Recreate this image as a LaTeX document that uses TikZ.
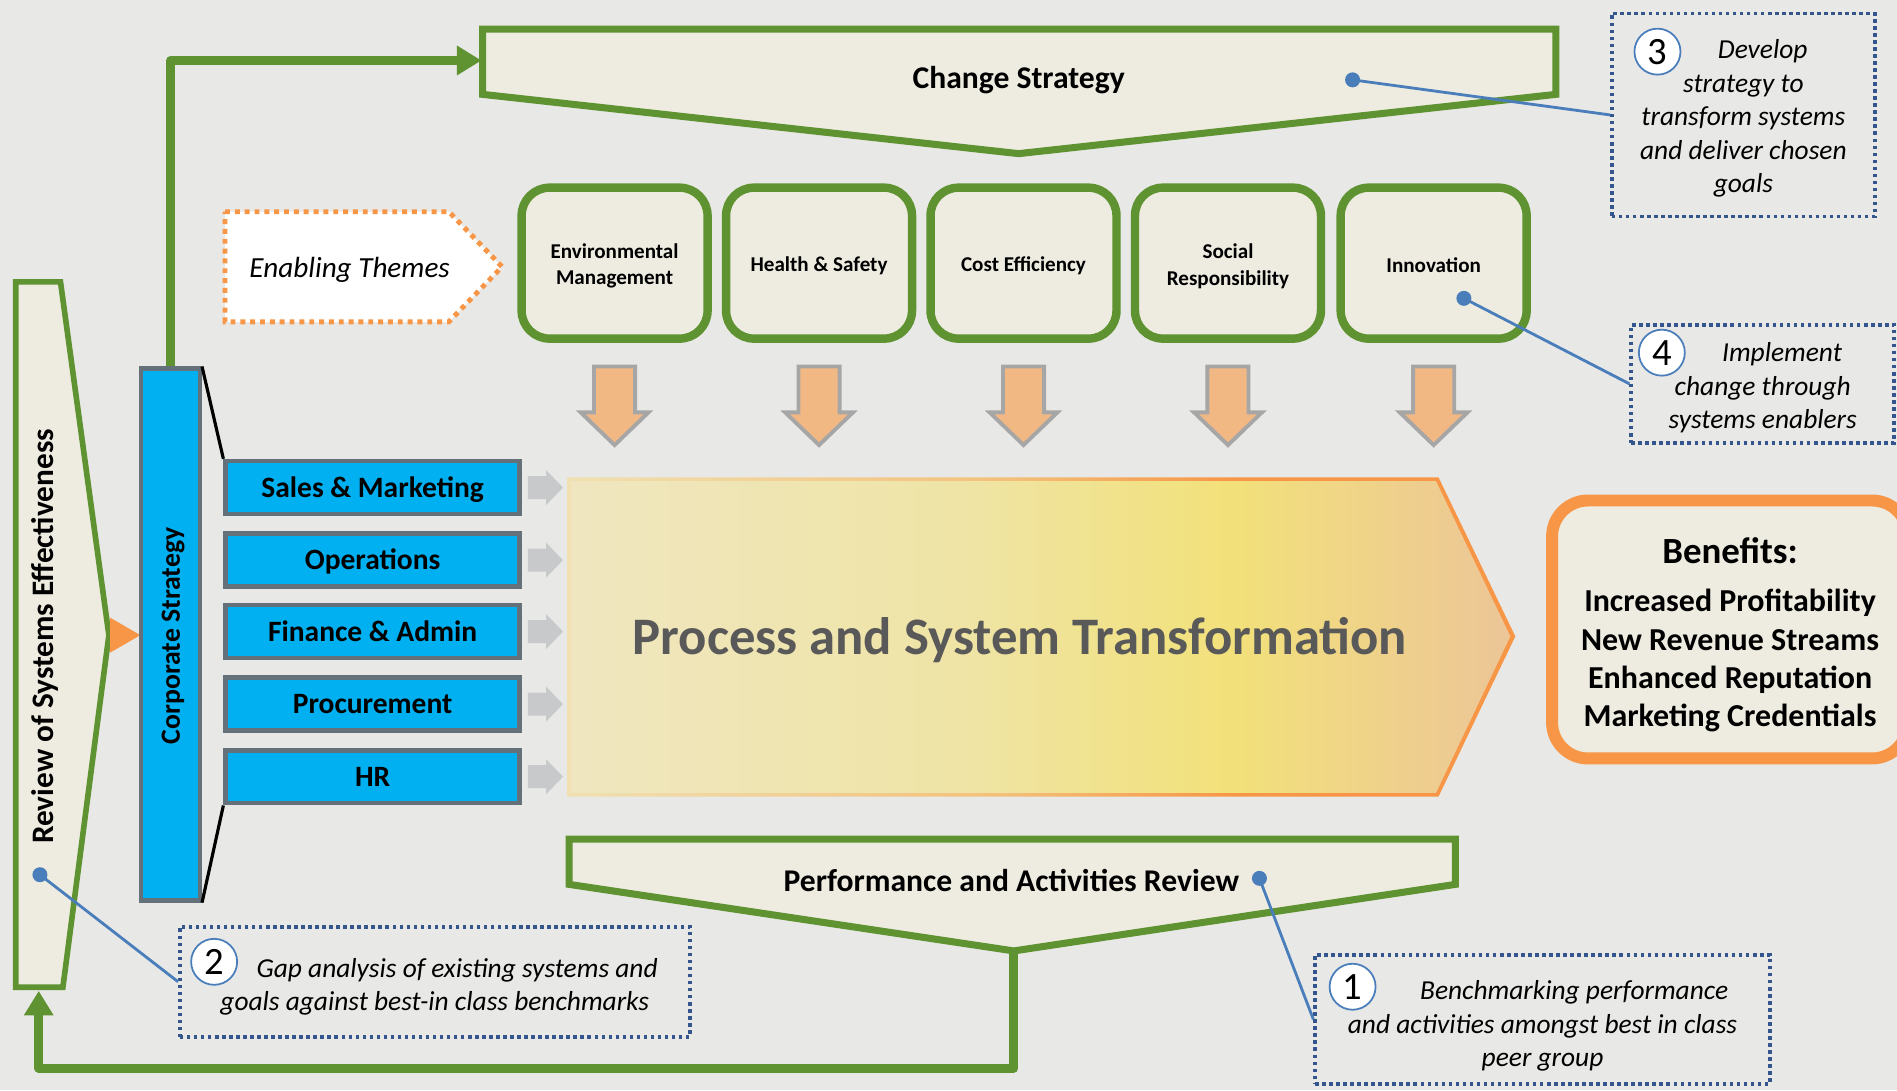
\documentclass[tikz,border=0pt]{standalone}
\usepackage{fontspec}
\setmainfont{Carlito}
\usetikzlibrary{arrows.meta}

\definecolor{bgpaper}{RGB}{232,232,230}
\definecolor{leafgreen}{RGB}{95,146,48}
\definecolor{cream}{RGB}{238,236,225}
\definecolor{skyblue}{RGB}{0,176,240}
\definecolor{slategray}{RGB}{100,112,122}
\definecolor{orng}{RGB}{247,150,70}
\definecolor{peach}{RGB}{242,184,132}
\definecolor{dotblue}{RGB}{74,126,187}
\definecolor{calblue}{RGB}{52,86,140}
\definecolor{ashgray}{RGB}{200,201,203}
\definecolor{textgray}{RGB}{89,89,89}
\definecolor{procA}{RGB}{239,230,192}
\definecolor{procB}{RGB}{239,228,165}
\definecolor{procC}{RGB}{242,225,122}
\definecolor{procD}{RGB}{236,197,152}
\definecolor{edgeA}{RGB}{240,224,178}
\definecolor{edgeB}{RGB}{243,192,122}

\pgfdeclarehorizontalshading{procshade}{100bp}{color(0bp)=(procA); color(25bp)=(procA); color(46bp)=(procB); color(60bp)=(procC); color(75bp)=(procD); color(100bp)=(procD)}
\pgfdeclarehorizontalshading{procedge}{100bp}{color(0bp)=(edgeA); color(25bp)=(edgeA); color(48bp)=(edgeB); color(60bp)=(orng); color(100bp)=(orng)}

\tikzset{
  flow/.style={draw=leafgreen, line width=2.5pt, line join=round, -{Triangle[length=7pt,width=8pt]}},
  banner/.style={draw=leafgreen, line width=2pt, fill=cream},
  theme/.style={draw=leafgreen, line width=2.4pt, fill=cream, rounded corners=2.8mm,
    minimum width=18.6mm, minimum height=15.1mm, inner sep=0pt},
  themetext/.style={align=center, inner sep=0pt, font=\fontsize{6}{7.5}\selectfont\bfseries},
  func/.style={draw=slategray, line width=1.3pt, fill=skyblue, minimum width=29.4mm,
    minimum height=5.3mm, inner sep=0pt, text height=5.6pt, text depth=0pt,
    font=\fontsize{8.4}{10}\selectfont\bfseries},
  callout/.style={draw=calblue, line width=1pt, dash pattern=on 1pt off 1pt, inner sep=0pt},
  calltext/.style={align=center, inner sep=0pt, font=\fontsize{7.8}{9.5}\selectfont\itshape},
  num/.style={circle, draw=dotblue, line width=0.5pt, fill=white, minimum size=4.6mm,
    inner sep=0pt, font=\fontsize{11}{12}\selectfont},
  dot/.style={circle, fill=dotblue, minimum size=1.5mm, inner sep=0pt},
  lead/.style={draw=dotblue, line width=0.8pt},
  benefit/.style={draw=orng, line width=3.4pt, fill=cream, rounded corners=3.6mm,
    minimum width=35.6mm, minimum height=25.8mm, inner sep=0pt},
  darrow/.pic={
    \filldraw[fill=peach, draw=gray!70, line width=1.1pt]
      (-17,0) -- (17,0) -- (17,38) -- (28,38) -- (0,65) -- (-28,38) -- (-17,38) -- cycle;
  },
  garrow/.pic={
    \fill[ashgray] (0,-9.5) -- (15,-9.5) -- (15,-14.5) -- (29,0) -- (15,14.5) -- (15,9.5) -- (0,9.5) -- cycle;
  }
}

\begin{document}
\begin{tikzpicture}[x=0.121mm, y=-0.121mm]
  \useasboundingbox (0,0) rectangle (1568,901);
  \fill[bgpaper] (0,0) rectangle (1568,901);

  % change strategy banner
  \draw[banner] (399,24) -- (1286,24) -- (1286,78) -- (842,127) -- (399,78) -- cycle;
  \node[font=\fontsize{9}{11}\selectfont\bfseries] (chg) at (842,66) {Change Strategy};
  \coordinate (chgL) at (398,50);

  % performance banner
  \draw[banner] (470.5,693.5) -- (1203,693.5) -- (1203,731) -- (838,786) -- (470.5,731) -- cycle;
  \node[font=\fontsize{9}{11}\selectfont\bfseries] (perf) at (836,728) {Performance and Activities Review};
  \coordinate (perfTip) at (838,787);
  \coordinate (loopY) at (0,883);

  % review of systems
  \draw[draw=leafgreen, line width=1.6pt, fill=cream]
    (13,233) -- (50,233) -- (90,525) -- (52,816) -- (13,816) -- cycle;
  \node[rotate=90, font=\fontsize{8.9}{11}\selectfont\bfseries] (rev) at (37,526) {Review of Systems Effectiveness};
  \coordinate (revB) at (32,819);
  \fill[orng] (91,510.5) -- (116,525) -- (91,539.5) -- cycle;

  % corporate strategy and functions
  \node[draw=slategray, line width=1.2pt, fill=skyblue, minimum width=5.87mm, minimum height=53.2mm] (corp) at (141,524.5) {};
  \node[rotate=90, font=\fontsize{7.9}{10}\selectfont\bfseries] (corptxt) at (143,525.5) {Corporate Strategy};

  \node[func] (sales) at (308,403) {Sales \& Marketing};
  \node[func] (ops) at (308,463) {Operations};
  \node[func] (fin) at (308,522) {Finance \& Admin};
  \node[func] (procur) at (308,582) {Procurement};
  \node[func] (hr) at (308,642) {HR};

  \draw[line width=0.9pt] (corp.north east) -- (sales.north west);
  \draw[line width=0.9pt] (corp.south east) -- (hr.south west);

  \foreach \n in {sales,ops,fin,procur,hr}
    \pic at ([xshift=0.6mm]\n.east) {garrow};

  % process and system transformation
  \shade[shading=procshade] (470,396) -- (1188,396) -- (1250,526) -- (1188,657) -- (470,657) -- cycle;
  \shade[shading=procedge, even odd rule]
    (469,394.5) -- (1189,394.5) -- (1252.5,526) -- (1189,658.5) -- (469,658.5) -- cycle
    (472,397.5) -- (1187,397.5) -- (1248.5,526) -- (1187,655.5) -- (472,655.5) -- cycle;
  \node[font=\fontsize{15}{18}\selectfont\bfseries, text=textgray] (pst) at (843,529) {Process and System Transformation};

  % enabling themes
  \draw[draw=orng, line width=1.4pt, dash pattern=on 1.4pt off 1.4pt, fill=white]
    (186,175) -- (371,175) -- (415,220.5) -- (371,266) -- (186,266) -- cycle;
  \node[font=\fontsize{8.3}{10}\selectfont\itshape] (enab) at (289,223) {Enabling Themes};

  \node[theme] (env) at (508,217.5) {};
  \node[theme] (hs) at (677,217.5) {};
  \node[theme] (cost) at (846,217.5) {};
  \node[theme] (soc) at (1015,217.5) {};
  \node[theme] (inno) at (1185,217.5) {};

  \node[themetext] (envtxt) at (508,220) {Environmental\\Management};
  \node[themetext] (hstxt) at (677,219.5) {Health \& Safety};
  \node[themetext] (costtxt) at (846,219.5) {Cost Efficiency};
  \node[themetext] (soctxt) at (1015,220) {Social\\Responsibility};
  \node[themetext] (innotxt) at (1185,219.5) {Innovation};

  \foreach \t in {env,hs,cost,soc,inno}
    \pic at ([yshift=-2.36mm]\t.south) {darrow};

  % benefits
  \node[benefit] (ben) at (1430,520.3) {};
  \node[align=center, inner sep=0pt, font=\fontsize{9.1}{10.85}\selectfont\bfseries] (bentxt) at (1430,524.5)
    {{\fontsize{10.5}{12}\selectfont Benefits:}\\[3pt]
     Increased Profitability\\New Revenue Streams\\Enhanced Reputation\\Marketing Credentials};

  % loops
  \draw[flow] (corp.north) |- (chgL);
  \draw[flow] (perfTip) -- (perfTip |- loopY) -| (revB);

  % callouts
  \node[callout, minimum width=26.3mm, minimum height=20.3mm] (c3) at (1441,95) {};
  \node[callout, minimum width=26.3mm, minimum height=11.8mm] (c4) at (1457,317.3) {};
  \node[callout, minimum width=51mm, minimum height=11mm] (c2) at (359.4,811.5) {};
  \node[callout, minimum width=45.5mm, minimum height=12.9mm] (c1) at (1275,842.5) {};

  \node[calltext] (c3txt) at (1441,98)
    {\hspace*{11pt}Develop\\strategy to\\transform systems\\and deliver chosen\\goals};
  \node[calltext] (c4txt) at (1457,320.5)
    {\hspace*{11pt}Implement\\change through\\systems enablers};
  \node[calltext] (c2txt) at (359.4,815.5)
    {\hspace*{12.7pt}Gap analysis of existing systems and\\goals against best-in class benchmarks};
  \node[calltext] (c1txt) at (1275,848)
    {\hspace*{18pt}Benchmarking performance\\and activities amongst best in class\\peer group};

  \node[num] (n3) at (1370,42.7) {3};
  \node[num] (n4) at (1373.6,291.5) {4};
  \node[num] (n2) at (177,795) {2};
  \node[num] (n1) at (1118,815.6) {1};

  \node[dot] (d3) at (1118,66) {};
  \node[dot] (d4) at (1210,246.6) {};
  \node[dot] (d2) at (33,723) {};
  \node[dot] (d1) at (1041,726) {};

  \foreach \from/\to in {d3/c3,d4/c4,d2/c2,d1/c1}
    \draw[lead] (\from.center) -- (\to.west);

\end{tikzpicture}
\end{document}
